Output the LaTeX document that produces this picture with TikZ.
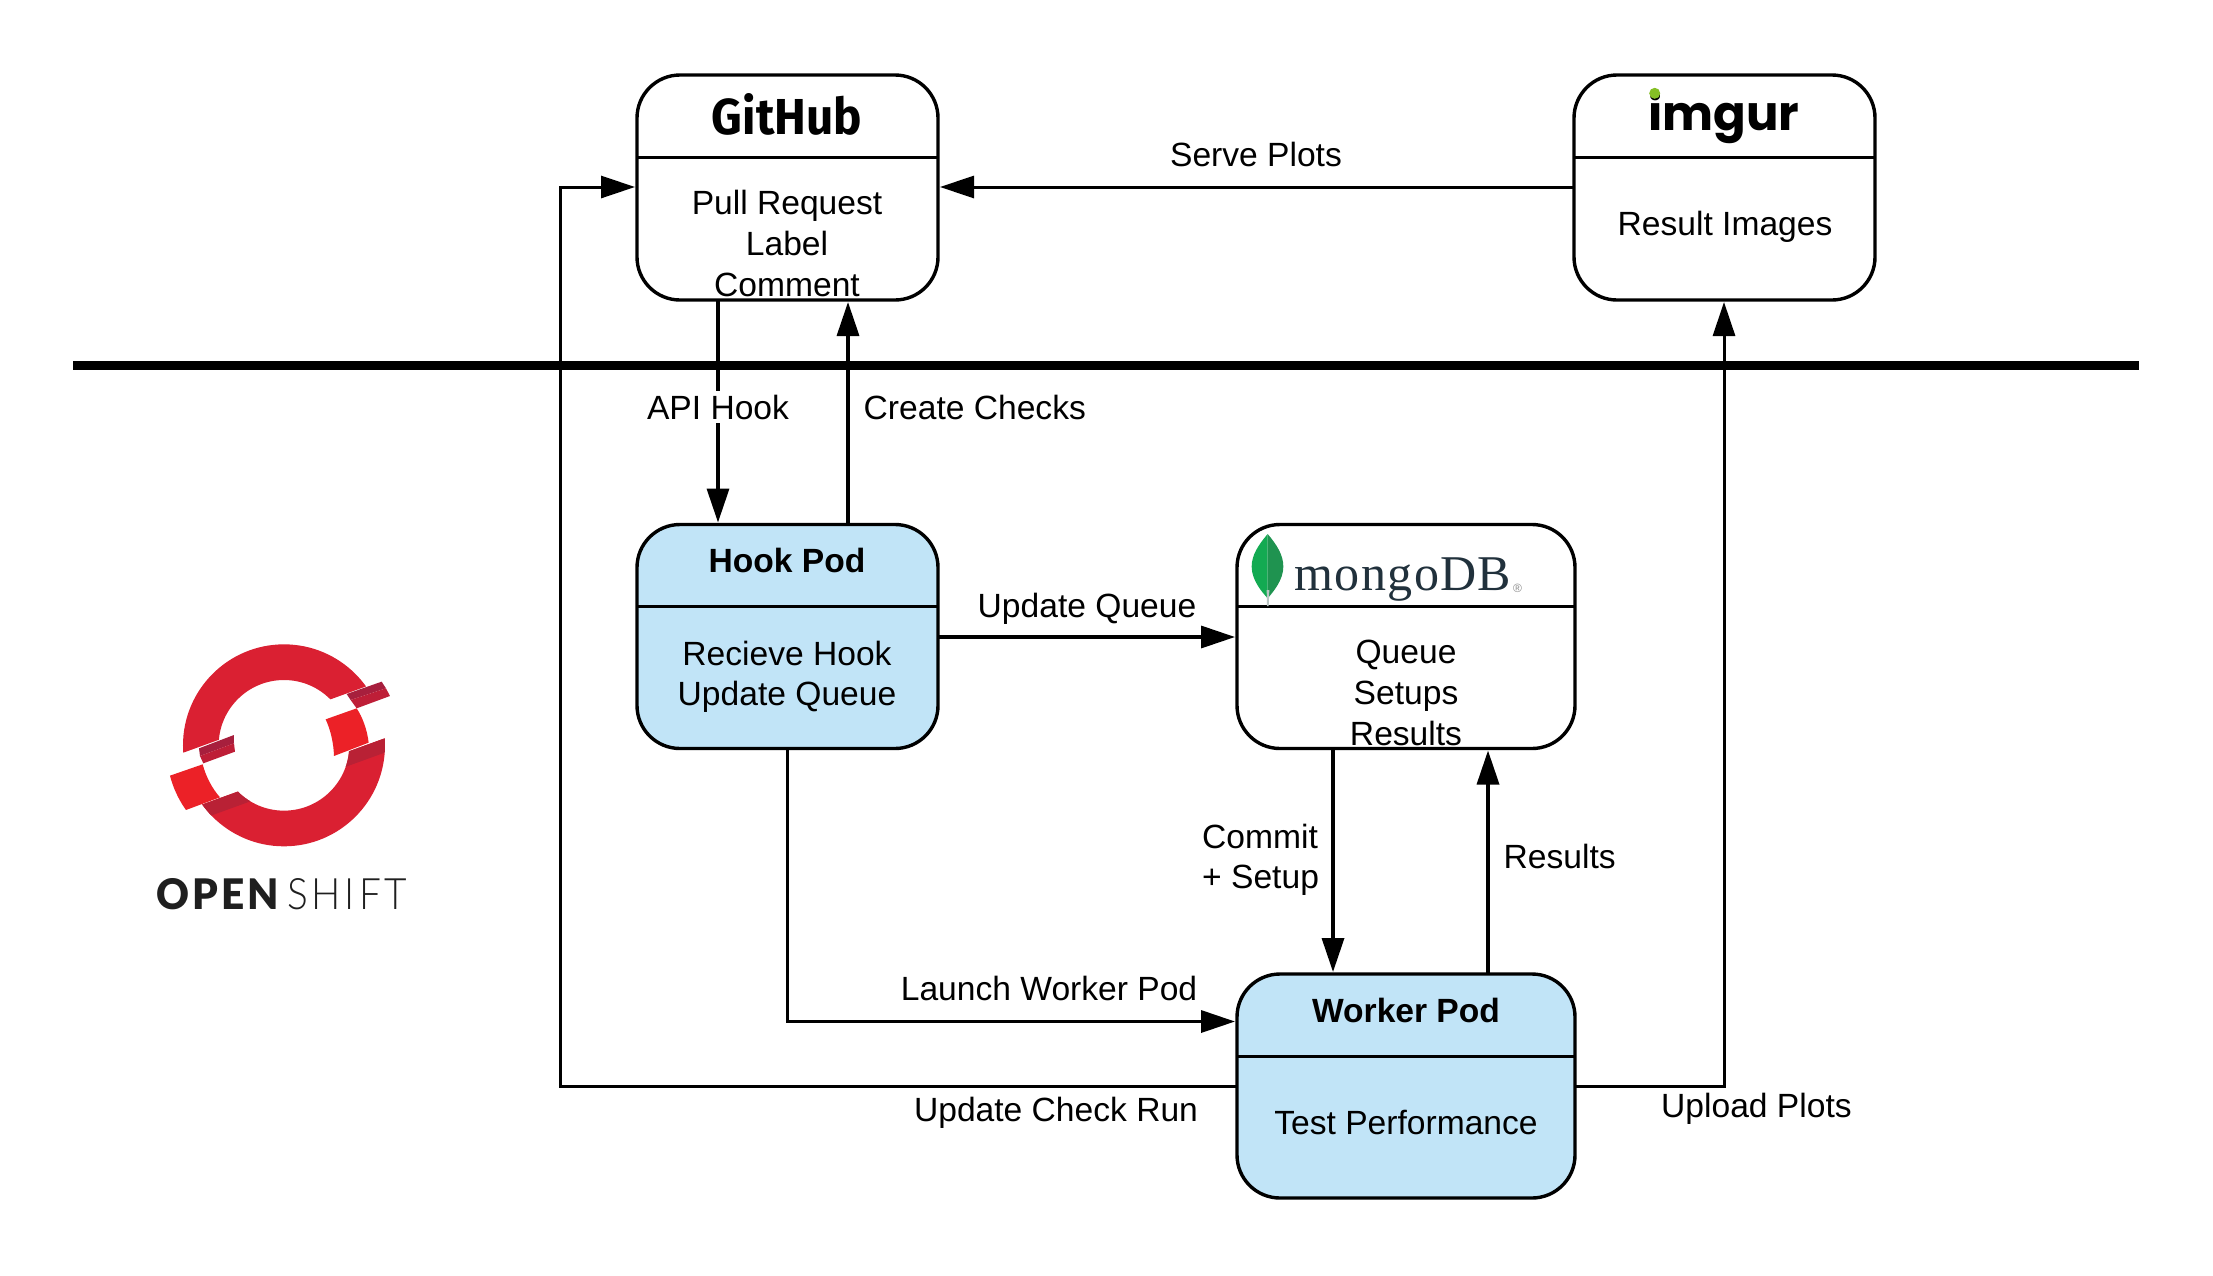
\documentclass[tikz,border=0pt]{standalone}
\usepackage{fontspec}
\usepackage{graphicx}
\setmainfont{Liberation Sans}
\newfontfamily\fira{Fira Sans}
\newfontfamily\pop{Poppins}
\newfontfamily\serifx[LetterSpace=3]{Liberation Serif}
\newfontfamily\latoh[LetterSpace=8]{Lato Black}
\newfontfamily\latol[LetterSpace=10]{Lato Light}
\usetikzlibrary{arrows.meta}
\definecolor{podblue}{HTML}{C1E4F7}
\definecolor{osred}{HTML}{DA2032}
\definecolor{osbright}{HTML}{EC2127}
\definecolor{osdark}{HTML}{B92135}
\definecolor{osdarker}{HTML}{A71F3D}
\definecolor{osmid}{HTML}{BE1E37}
\definecolor{mongotext}{HTML}{21313C}
\definecolor{leafa}{HTML}{13AA52}
\definecolor{leafb}{HTML}{1F9350}
\definecolor{leafc}{HTML}{B8C4C2}
\definecolor{imgurgreen}{HTML}{85BF25}
\tikzset{
  panel/.style={draw=black,line width=3.4pt,rounded corners=43pt,inner sep=0pt,outer sep=0pt},
  whitepanel/.style={panel,fill=white},
  bluepanel/.style={panel,fill=podblue},
  divider/.style={draw=black,line width=3pt},
  lbl/.style={font=\fontsize{33.6}{40.7}\selectfont,inner sep=0pt,anchor=base,align=center},
  boldlbl/.style={lbl,font=\fontsize{33.6}{40.7}\selectfont\bfseries},
  arr/.style={draw=black,line width=3.4pt,-{Triangle[length=34pt,width=22pt]},shorten >=2pt},
  thinarr/.style={arr,line width=3pt},
  logo/.style={inner sep=0pt,anchor=base},
}
\begin{document}
\begin{tikzpicture}[x=1pt,y=-1pt]
\useasboundingbox (0,0) rectangle (2213,1275);
\fill[white] (0,0) rectangle (2213,1275);

% separator
\coordinate (barL) at (73,365.5);
\coordinate (barR) at (2139,365.5);

% boxes
\node[whitepanel,minimum width=301pt,minimum height=225pt] (gh) at (787.5,187.5) {};
\node[whitepanel,minimum width=301pt,minimum height=225pt] (im) at (1724.5,187.5) {};
\node[bluepanel,minimum width=301pt,minimum height=224pt] (hook) at (787.5,636.5) {};
\node[whitepanel,minimum width=338pt,minimum height=224pt] (mongo) at (1406,636.5) {};
\node[bluepanel,minimum width=338pt,minimum height=224pt] (worker) at (1406,1086) {};

% connectors
\draw[thinarr] (im.west |- 0,187) -- (gh.east |- 0,187);
\draw[thinarr] (worker.west |- 0,1086) -- (560,1086) -- (560,187) -- (gh.west |- 0,187);
\draw[line width=9.5pt] (barL) -- (barR);
\draw[arr] (718,0 |- gh.south) -- (718,0 |- hook.north);
\draw[arr] (848,0 |- hook.north) -- (848,0 |- gh.south);
\draw[arr] (hook.east |- 0,637) -- (mongo.west |- 0,637);
\draw[arr] (1333,0 |- mongo.south) -- (1333,0 |- worker.north);
\draw[arr] (1488,0 |- worker.north) -- (1488,0 |- mongo.south);
\draw[arr] (787.5,0 |- hook.south) -- (787.5,1021.5) -- (worker.west |- 0,1021.5);
\draw[thinarr] (worker.east |- 0,1086) -- (1724,1086) -- (1724,0 |- im.south);

% dividers
\draw[divider] (gh.west |- 0,157) -- (gh.east |- 0,157);
\draw[divider] (im.west |- 0,157) -- (im.east |- 0,157);
\draw[divider] (hook.west |- 0,606.5) -- (hook.east |- 0,606.5);
\draw[divider] (mongo.west |- 0,606.5) -- (mongo.east |- 0,606.5);
\draw[divider] (worker.west |- 0,1056) -- (worker.east |- 0,1056);

% box texts
\node[lbl] (t1a) at (787,214) {Pull Request};
\node[lbl] (t1b) at (787,255) {Label};
\node[lbl] (t1c) at (787,296) {Comment};
\node[lbl] (t2) at (1725,235) {Result Images};
\node[boldlbl] (t3) at (787,572) {Hook Pod};
\node[lbl] (t3a) at (787,665) {Recieve Hook};
\node[lbl] (t3b) at (787,705) {Update Queue};
\node[lbl] (t4a) at (1406,663) {Queue};
\node[lbl] (t4b) at (1406,704) {Setups};
\node[lbl] (t4c) at (1406,745) {Results};
\node[boldlbl] (t5) at (1406,1022) {Worker Pod};
\node[lbl] (t5a) at (1406,1134) {Test Performance};

% connector labels
\node[lbl] (l1) at (1256,166) {Serve Plots};
\node[lbl,fill=white,inner xsep=0pt,inner ysep=4pt] (l2) at (718,419) {API Hook};
\node[lbl,anchor=base west] (l3) at (863.5,419) {Create Checks};
\node[lbl] (l4) at (1087,617) {Update Queue};
\node[lbl,anchor=base west] (l5a) at (1202,848) {Commit};
\node[lbl,anchor=base west] (l5b) at (1202,888) {+ Setup};
\node[lbl,anchor=base west] (l6) at (1503.5,868) {Results};
\node[lbl] (l7) at (1049,1000) {Launch Worker Pod};
\node[lbl] (l8) at (1056,1121) {Update Check Run};
\node[lbl,anchor=base west] (l9) at (1661,1117) {Upload Plots};

% logo words
\node[logo] (github) at (787,134) {\resizebox{150pt}{41pt}{\fira\bfseries GitHub}};
\node[logo] (imgur) at (1724,130) {\resizebox{151pt}{!}{\pop\bfseries imgur}};
\fill[imgurgreen] (1654.7,93.3) circle [radius=5.5];
\node[logo,anchor=base west,text=mongotext] (mongoword) at (1294,590) {\resizebox{217pt}{!}{\serifx\fontsize{48}{48}\selectfont mongo\kern1pt DB}};
\node[logo,anchor=base west,text=black!45] (mongoreg) at (1513,592) {\fontsize{12}{12}\selectfont ®};

% leaf
\begin{scope}[shift={(1220,510)},x=0.3333pt,y=-0.3333pt]
\fill[leafa] (143,72) .. controls (115,105) and (95,135) .. (95,170) .. controls (95,210) and (125,245) .. (143,265) -- cycle;
\fill[leafb] (143,72) .. controls (171,105) and (190,135) .. (190,170) .. controls (190,210) and (160,245) .. (143,265) -- cycle;
\fill[leafc] (140,240) -- (148,240) -- (146,288) -- (141,288) -- cycle;
\end{scope}

% openshift mark
\begin{scope}[shift={(130,620)},x=0.3333pt,y=-0.3333pt]
\begin{scope}
\clip (80,427) -- (800,166) -- (800,0) -- (80,0) -- cycle;
\fill[osred,even odd rule] (462,376) circle [radius=303] (462,376) circle [radius=196];
\end{scope}
\begin{scope}
\clip (80,603) -- (800,342) -- (800,750) -- (80,750) -- cycle;
\fill[osred,even odd rule] (462,376) circle [radius=303] (462,376) circle [radius=196];
\clip (80,646) -- (800,385) -- (800,0) -- (80,0) -- cycle;
\fill[osdark,even odd rule] (462,376) circle [radius=303] (462,376) circle [radius=196];
\end{scope}
\fill[osdarker] (207,385) -- (312,345) -- (312,370) -- (210,408) -- cycle;
\fill[osmid] (210,408) -- (312,370) -- (315,395) -- (220,430) -- cycle;
\fill[osdarker] (650,222) -- (755,185) -- (768,205) -- (662,240) -- cycle;
\fill[osmid] (662,240) -- (768,205) -- (780,228) -- (680,265) -- cycle;
\fill[osbright] (587,298) -- (680,265) .. controls (697,290) and (712,330) .. (716,368) -- (612,408) .. controls (611,370) and (602,330) .. (587,298) -- cycle;
\fill[osbright] (120,467) -- (218,433) .. controls (228,470) and (246,505) .. (270,532) -- (168,570) .. controls (146,540) and (128,500) .. (120,467) -- cycle;
\end{scope}
\node[logo,anchor=base west,text=black!88] (osopen) at (156,909) {\resizebox{123pt}{31pt}{\latoh OPEN}};
\node[logo,anchor=base west,text=black!88] (osshift) at (287,909) {\resizebox{120pt}{31pt}{\latol SHIFT}};
\end{tikzpicture}
\end{document}
